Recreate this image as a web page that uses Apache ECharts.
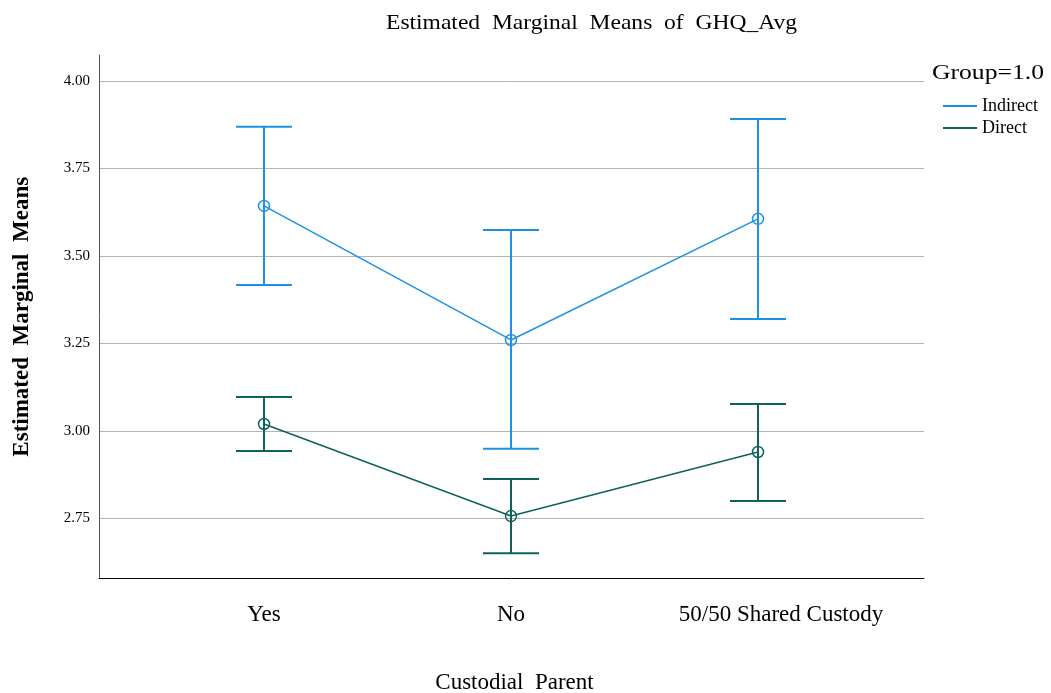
<!DOCTYPE html>
<html>
<head>
<meta charset="utf-8">
<script src="https://cdn.jsdelivr.net/npm/echarts@6/dist/echarts.min.js"></script>
<style>
  html, body { margin: 0; padding: 0; background: #fff; }
  #chart { width: 1051px; height: 693px; }
</style>
</head>
<body>
<div id="chart"></div>
<script>
// Custodial parent categories on the x axis
const categories = ['Yes', 'No', '50/50 Shared Custody'];
// Y axis tick labels
const yTicks = [2.75, 3.00, 3.25, 3.50, 3.75, 4.00];

// Group = Indirect: estimated marginal means and 95% CI bounds
const indirectMean = [3.643, 3.260, 3.606];
const indirectLow  = [3.417, 2.949, 3.320];
const indirectHigh = [3.869, 3.574, 3.891];

// Group = Direct: estimated marginal means and 95% CI bounds
const directMean = [3.020, 2.757, 2.940];
const directLow  = [2.943, 2.651, 2.800];
const directHigh = [3.097, 2.863, 3.077];

const BLUE = '#1E92E2';
const GREEN = '#0D625A';
const FONT = '"Liberation Serif", "Times New Roman", serif';

function pts(means) { return means.map((v, i) => [i, v]); }
function bars(lo, hi) { return lo.map((v, i) => [i, v, hi[i]]); }

function errorBarSeries(name, lo, hi, color) {
  return {
    type: 'custom',
    name: name + ' CI',
    data: bars(lo, hi),
    encode: { x: 0, y: [1, 2] },
    z: 2,
    silent: true,
    renderItem: function (params, api) {
      const x = api.value(0);
      const pLo = api.coord([x, api.value(1)]);
      const pHi = api.coord([x, api.value(2)]);
      const half = 28;
      const style = { stroke: color, lineWidth: 2, fill: null };
      return {
        type: 'group',
        children: [
          { type: 'line', shape: { x1: pLo[0], y1: pLo[1], x2: pHi[0], y2: pHi[1] }, style: style },
          { type: 'line', shape: { x1: pLo[0] - half, y1: pLo[1], x2: pLo[0] + half, y2: pLo[1] }, style: style },
          { type: 'line', shape: { x1: pHi[0] - half, y1: pHi[1], x2: pHi[0] + half, y2: pHi[1] }, style: style }
        ]
      };
    }
  };
}

function meanSeries(name, means, color) {
  return {
    type: 'line',
    name: name,
    data: pts(means),
    z: 3,
    symbol: 'circle',
    symbolSize: 11,
    itemStyle: { color: 'rgba(255,255,255,0)', borderColor: color, borderWidth: 1.5 },
    lineStyle: { color: color, width: 1.5 },
    emphasis: { disabled: true }
  };
}

const chart = echarts.init(document.getElementById('chart'), null, { renderer: 'canvas' });

chart.setOption({
  animation: false,
  backgroundColor: '#fff',
  textStyle: { fontFamily: FONT },
  grid: { left: 99, right: 127, top: 55, bottom: 114.5, outerBoundsMode: 'none', containLabel: false },
  xAxis: {
    type: 'value',
    min: -0.668,
    max: 2.672,
    name: 'Custodial  Parent',
    nameLocation: 'middle',
    nameGap: 93,
    nameMoveOverlap: false,
    nameTextStyle: { fontFamily: FONT, fontSize: 23, color: '#000', padding: [0, 0, 0, 6] },
    axisLine: { show: true, onZero: false, lineStyle: { color: '#000', width: 1 } },
    axisTick: { show: false, customValues: [0, 1, 2] },
    splitLine: { show: false },
    axisLabel: {
      customValues: [0, 1, 2],
      formatter: function (v) {
        const i = Math.round(v);
        // the long last label sits a little right of its point
        return i === 2 ? '{wide|' + categories[i] + '}' : categories[i];
      },
      rich: { wide: { fontFamily: FONT, fontSize: 23, color: '#000', padding: [0, 0, 0, 46] } },
      fontFamily: FONT, fontSize: 23, color: '#000', margin: 25
    }
  },
  yAxis: {
    type: 'value',
    min: 2.5786,
    max: 4.074,
    name: 'Estimated  Marginal  Means',
    nameLocation: 'middle',
    nameGap: 65,
    nameMoveOverlap: false,
    nameTextStyle: { fontFamily: FONT, fontSize: 23, fontWeight: 'bold', color: '#000' },
    axisLine: { show: true, onZero: false, lineStyle: { color: '#555', width: 1 } },
    axisTick: { show: false, customValues: yTicks },
    splitLine: { show: true, lineStyle: { color: '#B4B4B4', width: 1 } },
    axisLabel: {
      customValues: yTicks,
      formatter: function (v) { return v.toFixed(2); },
      fontFamily: FONT, fontSize: 15, color: '#000', margin: 9
    }
  },
  legend: {
    orient: 'vertical',
    left: 943,
    top: 97,
    padding: 0,
    itemGap: 4,
    itemWidth: 34,
    itemHeight: 2,
    icon: 'rect',
    data: [
      { name: 'Indirect', itemStyle: { color: BLUE, borderWidth: 0 } },
      { name: 'Direct', itemStyle: { color: GREEN, borderWidth: 0 } }
    ],
    textStyle: { fontFamily: FONT, fontSize: 18, color: '#000' }
  },
  graphic: [
    {
      type: 'text',
      x: 591.5,
      y: 23,
      scaleX: 1.07,
      style: {
        text: 'Estimated  Marginal  Means  of  GHQ_Avg',
        font: '22px ' + FONT, fill: '#000', align: 'center', verticalAlign: 'middle'
      }
    },
    {
      type: 'text',
      x: 932,
      y: 73,
      scaleX: 1.22,
      style: { text: 'Group=1.0', font: '21px ' + FONT, fill: '#000', verticalAlign: 'middle' }
    }
  ],
  series: [
    errorBarSeries('Indirect', indirectLow, indirectHigh, BLUE),
    errorBarSeries('Direct', directLow, directHigh, GREEN),
    meanSeries('Indirect', indirectMean, BLUE),
    meanSeries('Direct', directMean, GREEN)
  ]
});
</script>
</body>
</html>
